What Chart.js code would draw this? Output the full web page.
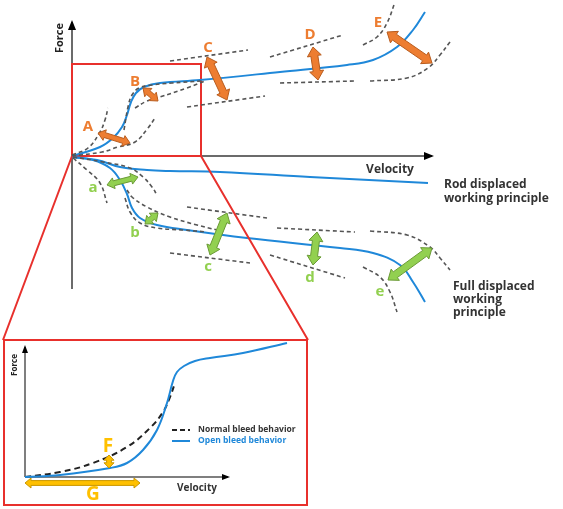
<!DOCTYPE html>
<html>
<head>
<meta charset="utf-8">
<script src="https://cdn.jsdelivr.net/npm/chart.js@4.4.1/dist/chart.umd.min.js"></script>
<style>
  body { margin: 0; background: #fff; }
  #wrap { position: relative; width: 563px; height: 509px; }
  #main { position: absolute; left: 0; top: 0; }
  #insetBox { position: absolute; left: 3px; top: 339px; width: 305px; height: 167px;
    border: 2px solid #e8302c; box-sizing: border-box; background: #fff; }
  #inset { position: absolute; left: 0; top: 0; }
</style>
</head>
<body>
<div id="wrap">
  <canvas id="main" width="563" height="509"></canvas>
  <div id="insetBox"><canvas id="inset" width="301" height="163"></canvas></div>
</div>
<script>
// schematic force / velocity curves, units = arbitrary (origin of main axes at 0,0)

// rebound side (positive force)
const blueUp  = [[0,0],[28,9],[41,18],[50,29],[55,41],[59,54],[64,63],[72,69],[88,73],[128,76],[208,84],[275,91],[301,96],[325,109],[341,126],[353,144]];
const dashA1  = [[0,1],[16,8],[28,24],[33,36],[36,48]];
const dashA2  = [[0,0],[30,4],[46,9],[63,14],[76,28],[83,38]];
const dashB1  = [[52,26],[56,49],[60,61],[67,68],[80,71],[100,73],[130,75]];
const dashB2  = [[63,48],[75,55],[88,59],[115,68],[133,75]];
const dashC1  = [[98,95],[176,106]];
const dashC2  = [[115,49],[193,60]];
const dashD1  = [[198,99],[271,121]];
const dashD2  = [[208,73],[283,75]];
const dashE1  = [[291,111],[305,119],[315,133],[323,154]];
const dashE2  = [[298,75],[335,78],[356,88],[368,101],[378,114]];

// compression side (negative force)
const blueRod  = [[0,-1],[25,-4],[48,-11],[75,-14],[98,-15],[148,-16],[238,-21],[356,-27]];
const blueFull = [[0,-1],[21,-4],[38,-12],[48,-24],[55,-38],[60,-52],[68,-62],[85,-69],[115,-74],[175,-82],[268,-92],[301,-97],[328,-109],[341,-126],[353,-146]];
const dashA3  = [[1,-2],[15,-14],[28,-27],[35,-47]];
const dashA4  = [[1,-1],[31,-6],[58,-12],[71,-21],[80,-31],[85,-39]];
const dashB3  = [[55,-34],[60,-41],[75,-51],[98,-61],[125,-69],[145,-74]];
const dashB4  = [[53,-42],[58,-56],[68,-67],[85,-72],[111,-74],[135,-76]];
const dashC3  = [[115,-51],[195,-62]];
const dashC4  = [[98,-97],[178,-107]];
const dashD3  = [[205,-72],[283,-76]];
const dashD4  = [[198,-99],[273,-122]];
const dashE3  = [[298,-75],[335,-79],[358,-91],[368,-102],[378,-114]];
const dashE4  = [[291,-111],[308,-121],[318,-136],[325,-156]];

// zoom frame and its links to the inset
const zoomFrame = [[0,0],[129,0],[129,92],[0,92],[0,0]];
const zoomLinkL = [[0,0],[-69,-184]];
const zoomLinkR = [[129,0],[236,-184]];

// double arrows [x1,y1,x2,y2]
const upperArrows  = [[26,23,58,13],[71,68,86,55],[135,99,155,56],[241,109,246,76],[315,124,360,93]];
const upperLetters = ['A','B','C','D','E'];
const upperLetterAt = [[16,29],[63,74],[136,108],[238,121],[306,133]];
const lowerArrows  = [[35,-29,66,-21],[73,-68,86,-57],[155,-57,138,-99],[245,-76,241,-109],[360,-92,316,-124]];
const lowerLetters = ['a','b','c','d','e'];
const lowerLetterAt = [[21,-32],[63,-77],[136,-111],[238,-122],[308,-136]];

// inset (own origin)
const openBleed   = [[0,0],[35,2],[85,9],[102,14],[118,27],[132,47],[142,74],[148,96],[152,105],[159,111],[170,116],[185,119],[218,124],[262,134]];
const normalBleed = [[0,0],[35,5],[68,14],[102,30],[125,49],[138,65],[145,80],[150,94]];
const insetArrows = [[84,22,84,9],[0,-6,115,-6]];
const insetLetters = ['F','G'];
const insetLetterAt = [[83,30],[68,-18]];
const legendLabels = ['Normal bleed behavior', 'Open bleed behavior'];

const BLUE = '#1f88d9';
const GREY = '#555555';
const RED = '#e8302c';

const pts = arr => arr.map(p => ({x: p[0], y: p[1]}));
const curve = (arr, color, dash, width) => ({
    data: pts(arr),
    showLine: true,
    borderColor: color,
    borderWidth: width || 1.6,
    borderDash: dash || [],
    pointRadius: 0,
    tension: 0.4,
    clip: false,
});

function blockArrow(ctx, x1, y1, x2, y2, s, fill, stroke) {
    const dx = x2 - x1, dy = y2 - y1;
    const len = Math.hypot(dx, dy);
    const ux = dx / len, uy = dy / len, nx = -uy, ny = ux;
    const h = Math.min(s.head, len / 2.5), hw = s.headW, bw = s.bodyW;
    const P = (bx, by, a, b) => [bx + ux * a + nx * b, by + uy * a + ny * b];
    const poly = [
        [x1, y1], P(x1, y1, h, hw), P(x1, y1, h, bw), P(x2, y2, -h, bw), P(x2, y2, -h, hw),
        [x2, y2], P(x2, y2, -h, -hw), P(x2, y2, -h, -bw), P(x1, y1, h, -bw), P(x1, y1, h, -hw)
    ];
    ctx.beginPath();
    poly.forEach((p, i) => i ? ctx.lineTo(p[0], p[1]) : ctx.moveTo(p[0], p[1]));
    ctx.closePath();
    ctx.fillStyle = fill;
    ctx.fill();
    ctx.lineWidth = 1;
    ctx.strokeStyle = stroke;
    ctx.stroke();
}

function axisArrow(ctx, x1, y1, x2, y2, color, width, head) {
    ctx.strokeStyle = color;
    ctx.lineWidth = width;
    ctx.beginPath();
    ctx.moveTo(x1, y1);
    ctx.lineTo(x2, y2);
    ctx.stroke();
    const a = Math.atan2(y2 - y1, x2 - x1);
    ctx.fillStyle = '#000';
    ctx.beginPath();
    ctx.moveTo(x2 + Math.cos(a) * 2, y2 + Math.sin(a) * 2);
    ctx.lineTo(x2 - Math.cos(a) * head + Math.sin(a) * head * 0.5, y2 - Math.sin(a) * head - Math.cos(a) * head * 0.5);
    ctx.lineTo(x2 - Math.cos(a) * head - Math.sin(a) * head * 0.5, y2 - Math.sin(a) * head + Math.cos(a) * head * 0.5);
    ctx.closePath();
    ctx.fill();
}

function text(ctx, str, x, y, font, color, align, rot) {
    ctx.save();
    ctx.translate(x, y);
    if (rot) ctx.rotate(rot);
    ctx.font = font;
    ctx.fillStyle = color;
    ctx.textAlign = align || 'center';
    ctx.textBaseline = 'middle';
    ctx.fillText(str, 0, 0);
    ctx.restore();
}

const FONT = '"Open Sans", "DejaVu Sans", sans-serif';

const mainDecor = {
    id: 'mainDecor',
    beforeDatasetsDraw(chart) {
        const ctx = chart.ctx, X = chart.scales.x, Y = chart.scales.y;
        ctx.save();
        axisArrow(ctx, X.getPixelForValue(0), Y.getPixelForValue(-133), X.getPixelForValue(0), Y.getPixelForValue(134), '#6b6b6b', 2, 8);
        axisArrow(ctx, X.getPixelForValue(0), Y.getPixelForValue(0), X.getPixelForValue(360), Y.getPixelForValue(0), '#6b6b6b', 2, 8);
        ctx.restore();
    },
    afterDatasetsDraw(chart) {
        const ctx = chart.ctx, X = chart.scales.x, Y = chart.scales.y;
        const px = v => X.getPixelForValue(v), py = v => Y.getPixelForValue(v);
        ctx.save();
        const big = {head: 9, headW: 7, bodyW: 3.5}, small = {head: 7, headW: 5.5, bodyW: 2.5};
        upperArrows.forEach((a, i) => blockArrow(ctx, px(a[0]), py(a[1]), px(a[2]), py(a[3]), i < 2 ? small : big, '#ed7d31', '#b85c1e'));
        lowerArrows.forEach((a, i) => blockArrow(ctx, px(a[0]), py(a[1]), px(a[2]), py(a[3]), i < 2 ? small : big, '#92d050', '#6a9a35'));
        upperLetters.forEach((l, i) => text(ctx, l, px(upperLetterAt[i][0]), py(upperLetterAt[i][1]), 'bold 15px ' + FONT, '#ed7d31'));
        lowerLetters.forEach((l, i) => text(ctx, l, px(lowerLetterAt[i][0]), py(lowerLetterAt[i][1]), 'bold 15px ' + FONT, '#92d050'));
        text(ctx, 'Force', px(-12), py(118), 'bold 11px ' + FONT, '#222', 'center', -Math.PI / 2);
        text(ctx, 'Velocity', px(318), py(-14), 'bold 12px ' + FONT, '#333');
        const lf = 'bold 12px ' + FONT;
        text(ctx, 'Rod displaced', px(372), py(-29), lf, '#333', 'left');
        text(ctx, 'working principle', px(372), py(-43), lf, '#333', 'left');
        text(ctx, 'Full displaced', px(381), py(-131), lf, '#333', 'left');
        text(ctx, 'working', px(381), py(-144), lf, '#333', 'left');
        text(ctx, 'principle', px(381), py(-157), lf, '#333', 'left');
        ctx.restore();
    }
};

const D = [4, 3];
new Chart(document.getElementById('main'), {
    type: 'scatter',
    data: {
        datasets: [
            curve(zoomLinkL, RED, [], 2), curve(zoomLinkR, RED, [], 2),
            curve(dashA1, GREY, D), curve(dashA2, GREY, D), curve(dashB1, GREY, D), curve(dashB2, GREY, D),
            curve(dashC1, GREY, D), curve(dashC2, GREY, D), curve(dashD1, GREY, D), curve(dashD2, GREY, D),
            curve(dashE1, GREY, D), curve(dashE2, GREY, D),
            curve(dashA3, GREY, D), curve(dashA4, GREY, D), curve(dashB3, GREY, D), curve(dashB4, GREY, D),
            curve(dashC3, GREY, D), curve(dashC4, GREY, D), curve(dashD3, GREY, D), curve(dashD4, GREY, D),
            curve(dashE3, GREY, D), curve(dashE4, GREY, D),
            curve(blueUp, BLUE, [], 2), curve(blueRod, BLUE, [], 2), curve(blueFull, BLUE, [], 2),
            Object.assign(curve(zoomFrame, RED, [], 2), {tension: 0}),
        ]
    },
    options: {
        responsive: false,
        animation: false,
        layout: {padding: 0},
        scales: {
            x: {type: 'linear', display: false, min: -72, max: 491},
            y: {type: 'linear', display: false, min: -353, max: 156},
        },
        plugins: {legend: {display: false}, tooltip: {enabled: false}},
    },
    plugins: [mainDecor],
});

const insetDecor = {
    id: 'insetDecor',
    beforeDatasetsDraw(chart) {
        const ctx = chart.ctx, X = chart.scales.x, Y = chart.scales.y;
        ctx.save();
        axisArrow(ctx, X.getPixelForValue(0), Y.getPixelForValue(0), X.getPixelForValue(0), Y.getPixelForValue(130), '#555', 1.5, 6);
        axisArrow(ctx, X.getPixelForValue(0), Y.getPixelForValue(0), X.getPixelForValue(203), Y.getPixelForValue(0), '#555', 1.5, 6);
        ctx.restore();
    },
    afterDatasetsDraw(chart) {
        const ctx = chart.ctx, X = chart.scales.x, Y = chart.scales.y;
        const px = v => X.getPixelForValue(v), py = v => Y.getPixelForValue(v);
        ctx.save();
        const s = {head: 6, headW: 5, bodyW: 2.4};
        insetArrows.forEach(a => blockArrow(ctx, px(a[0]), py(a[1]), px(a[2]), py(a[3]), s, '#ffc000', '#c99700'));
        insetLetters.forEach((l, i) => text(ctx, l, px(insetLetterAt[i][0]), py(insetLetterAt[i][1]), 'bold 19px ' + FONT, '#ffc000'));
        text(ctx, 'Force', px(-10), py(112), 'bold 8px ' + FONT, '#222', 'center', -Math.PI / 2);
        text(ctx, 'Velocity', px(172), py(-11), 'bold 10px ' + FONT, '#333');
        // legend
        ctx.lineWidth = 2;
        ctx.strokeStyle = '#222';
        ctx.setLineDash([5, 3]);
        ctx.beginPath(); ctx.moveTo(px(147), py(47)); ctx.lineTo(px(165), py(47)); ctx.stroke();
        ctx.setLineDash([]);
        ctx.strokeStyle = BLUE;
        ctx.beginPath(); ctx.moveTo(px(147), py(36)); ctx.lineTo(px(165), py(36)); ctx.stroke();
        text(ctx, legendLabels[0], px(173), py(47), 'bold 8.5px ' + FONT, '#333', 'left');
        text(ctx, legendLabels[1], px(173), py(36), 'bold 8.5px ' + FONT, BLUE, 'left');
        ctx.restore();
    }
};

new Chart(document.getElementById('inset'), {
    type: 'scatter',
    data: {
        datasets: [
            curve(openBleed, BLUE, [], 2),
            curve(normalBleed, '#222', [6, 4], 2),
        ]
    },
    options: {
        responsive: false,
        animation: false,
        layout: {padding: 0},
        scales: {
            x: {type: 'linear', display: false, min: -20, max: 281},
            y: {type: 'linear', display: false, min: -27, max: 136},
        },
        plugins: {legend: {display: false}, tooltip: {enabled: false}},
    },
    plugins: [insetDecor],
});
</script>
</body>
</html>
